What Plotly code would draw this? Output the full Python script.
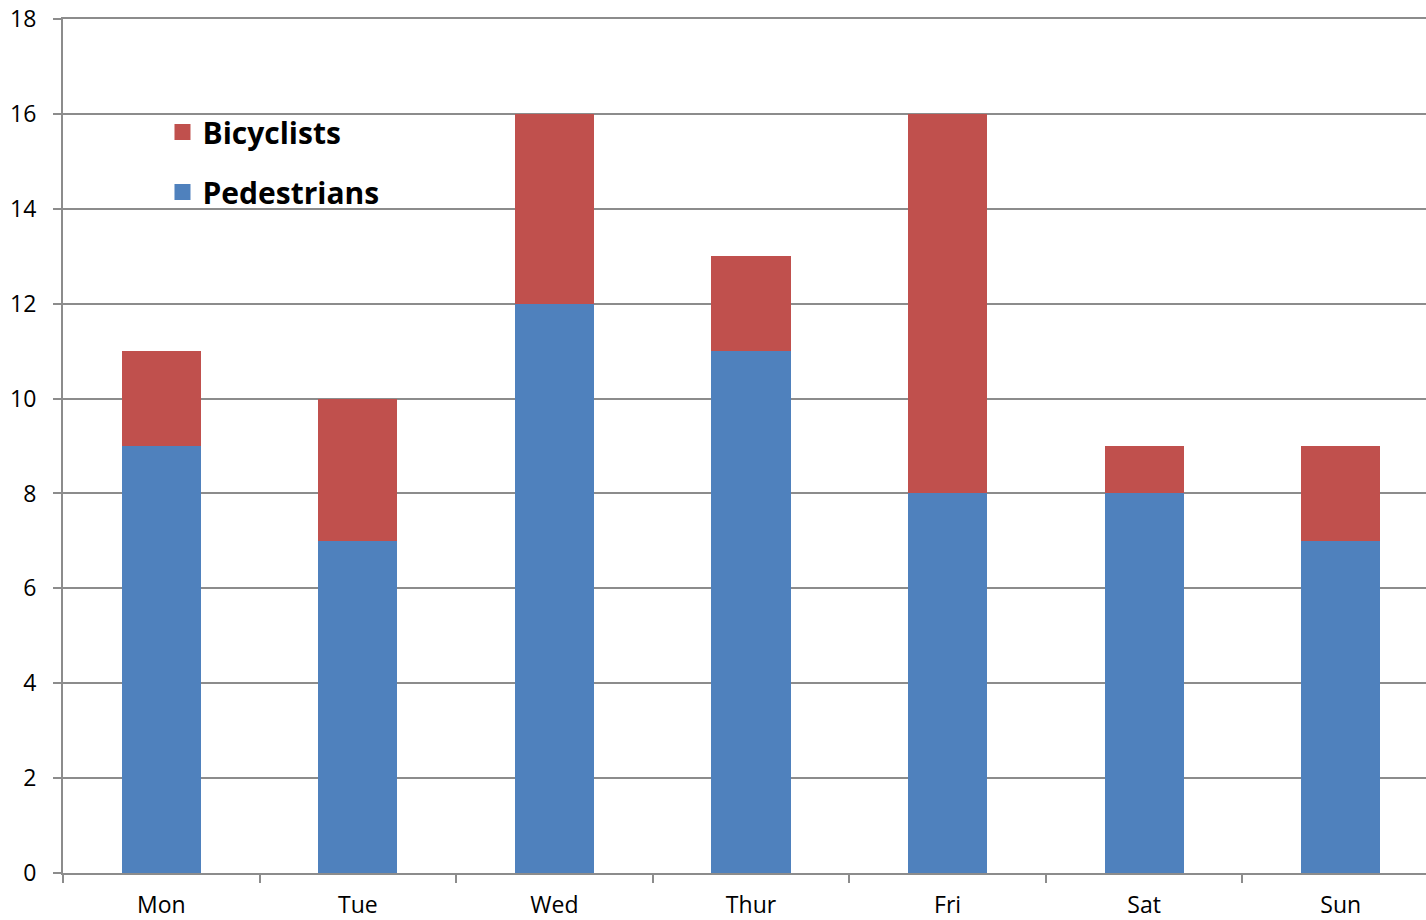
import plotly.graph_objects as go

days = ["Mon", "Tue", "Wed", "Thur", "Fri", "Sat", "Sun"]
pedestrians = [9, 7, 12, 11, 8, 8, 7]
bicyclists = [2, 3, 4, 2, 8, 1, 2]
y_ticks = [0, 2, 4, 6, 8, 10, 12, 14, 16, 18]

blue = "#4F81BD"
red = "#C0504D"

fig = go.Figure()
fig.add_trace(go.Bar(x=days, y=pedestrians, name="Pedestrians",
                     marker=dict(color=blue, line=dict(width=0)),
                     showlegend=False))
fig.add_trace(go.Bar(x=days, y=bicyclists, name="Bicyclists",
                     marker=dict(color=red, line=dict(width=0)),
                     showlegend=False))
# legend entries with larger square swatches
fig.add_trace(go.Scatter(x=[None], y=[None], mode="markers", name="Bicyclists",
                         marker=dict(symbol="square", size=20, color=red),
                         legendgroup="b", legendrank=1))
fig.add_trace(go.Scatter(x=[None], y=[None], mode="markers", name="Pedestrians",
                         marker=dict(symbol="square", size=20, color=blue),
                         legendgroup="p", legendrank=2))

grid = "#8C8C8C"
fnt = "'Open Sans', Lato, sans-serif"
fig.update_layout(
    width=1439, height=920,
    barmode="stack", bargap=0.598,
    plot_bgcolor="white", paper_bgcolor="white",
    margin=dict(l=63, r=0, t=19, b=47),
    font=dict(family=fnt, size=23, color="black"),
    showlegend=True,
    legend=dict(x=0.0723, y=0.898, xanchor="left", yanchor="top",
                traceorder="grouped", tracegroupgap=18,
                font=dict(size=30, family=fnt, weight="bold"),
                bgcolor="rgba(0,0,0,0)", itemwidth=30),
    xaxis=dict(showgrid=False, showline=True, linecolor=grid, linewidth=2,
               mirror=True,
               ticks="outside", tickson="boundaries", ticklen=8, tickwidth=2,
               tickcolor=grid, tickfont=dict(size=23), automargin=False,
               ticklabelstandoff=10),
    yaxis=dict(range=[0, 18], tickvals=y_ticks, showgrid=True, gridcolor=grid,
               gridwidth=2, showline=True, linecolor=grid, linewidth=2,
               ticks="outside", ticklen=8, tickwidth=2, tickcolor=grid,
               ticklabelstandoff=12, tickfont=dict(size=23), zeroline=False,
               automargin=False, ticklabeloverflow="allow"),
)

fig.write_html("out.html", config={"displayModeBar": False},
               post_script="document.body.style.margin='0';document.body.style.overflow='hidden';")
